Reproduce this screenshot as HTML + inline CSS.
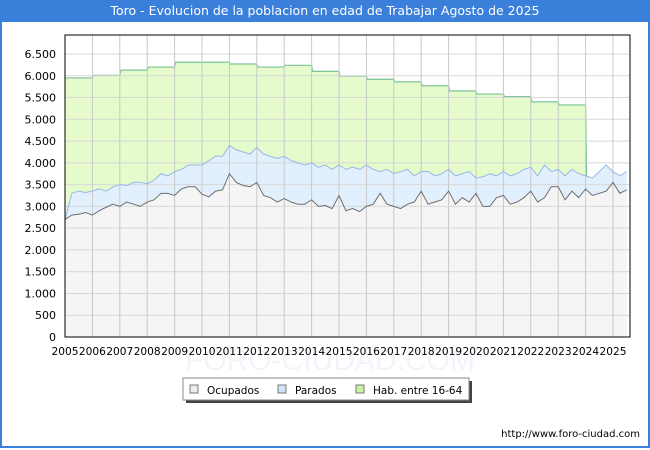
<!DOCTYPE html>
<html><head><meta charset="utf-8"><style>
body{margin:0;background:#fff;font-family:"DejaVu Sans","Liberation Sans",sans-serif}
#wrap{position:relative;width:646px;height:446px;border:2px solid #3a7fd9;border-top:none;background:#fff}
#title{position:absolute;left:-2px;top:0;width:650px;height:22px;background:#3a7fd9;color:#fff;font-size:12.5px;text-align:center;line-height:22px}
</style></head><body>
<div id="wrap">
<div id="title">Toro - Evolucion de la poblacion en edad de Trabajar Agosto de 2025</div>
<svg id="chart" width="650" height="450" style="position:absolute;left:-2px;top:0"></svg>
</div>
<script>
const years=[2005,2006,2007,2008,2009,2010,2011,2012,2013,2014,2015,2016,2017,2018,2019,2020,2021,2022,2023,2024,2025];
const yTicks=[0,500,1000,1500,2000,2500,3000,3500,4000,4500,5000,5500,6000,6500];
const habValues=[5950,6010,6130,6200,6310,6310,6270,6200,6240,6100,5990,5920,5860,5770,5650,5580,5520,5400,5330];
const ocupados=[2700,2800,2820,2860,2800,2900,2980,3050,3000,3100,3050,3000,3100,3150,3300,3300,3250,3400,3450,3450,3280,3220,3350,3380,3750,3550,3480,3450,3550,3250,3200,3100,3180,3100,3050,3050,3150,3000,3020,2950,3250,2900,2950,2880,3000,3050,3300,3050,3000,2950,3050,3100,3350,3050,3100,3150,3350,3050,3200,3100,3300,3000,3000,3200,3250,3050,3100,3200,3350,3100,3200,3450,3450,3150,3350,3200,3400,3250,3300,3350,3550,3300,3380];
const parados=[2700,3300,3350,3320,3350,3400,3350,3450,3500,3480,3550,3550,3520,3600,3750,3700,3800,3850,3950,3950,3950,4050,4150,4150,4400,4300,4250,4200,4350,4200,4150,4100,4150,4050,4000,3950,4000,3900,3950,3850,3950,3850,3900,3850,3950,3850,3800,3850,3750,3800,3850,3700,3800,3800,3700,3750,3850,3700,3750,3800,3650,3680,3750,3700,3800,3700,3750,3850,3900,3700,3950,3800,3850,3700,3850,3750,3700,3650,3800,3950,3800,3700,3800];
const L=65,R=630,T=35,B=337,YMAX=6936,XW=27.4;
const x=t=>L+(t-2005)*XW;
const y=v=>B-v/YMAX*(B-T);
const svg=document.getElementById('chart');
const NS='http://www.w3.org/2000/svg';
function mk(tag,attrs,parent){const e=document.createElementNS(NS,tag);for(const k in attrs)e.setAttribute(k,attrs[k]);(parent||svg).appendChild(e);return e;}
let wm=mk('text',{x:330,y:370,'text-anchor':'middle','font-size':'30','fill':'#f3f4fb','font-family':'Liberation Sans, sans-serif'});
wm.textContent='FORO-CIUDAD.COM';


mk('rect',{x:L,y:T,width:R-L,height:B-T,fill:'#fff'});
let hp=`M${x(2005)},${y(0)}`;
habValues.forEach((v,i)=>{hp+=` L${x(2005+i)+(i?1:0)},${y(v)} L${x(2006+i)},${y(v)}`;});
const lastT=2005+(parados.length-1)*0.25;
hp+=` L${x(2024)+1},${y(parados[76])} L${x(2024)},${y(0)} Z`;
let ha=mk('path',{d:hp,fill:'#e5fbcb'});


let hl='';habValues.forEach((v,i)=>{hl+=(i?' L':'M')+`${x(2005+i)+(i?1:0)},${y(v)} L${x(2006+i)},${y(v)}`;});
hl+=` L${x(2024)+1},${y(parados[76])}`;
let hline=mk('path',{d:hl,fill:'none',stroke:'#7cc497','stroke-width':1.2});


function series(arr){return arr.map((v,i)=>`${x(2005+i*0.25)},${y(v)}`);}
const pp=series(parados),op=series(ocupados);
let pa=mk('path',{d:'M'+pp.join(' L')+` L${x(lastT)},${y(0)} L${x(2005)},${y(0)} Z`,fill:'#e2f0fe'});


let oa=mk('path',{d:'M'+op.join(' L')+` L${x(lastT)},${y(0)} L${x(2005)},${y(0)} Z`,fill:'#f5f5f5'});


yTicks.forEach(v=>{mk('line',{x1:L,x2:R,y1:y(v),y2:y(v),stroke:'#d8d8d8'});
 let t=mk('text',{x:L-9,y:y(v)+4,'text-anchor':'end','font-size':'11',fill:'#000'});
 t.textContent=v.toLocaleString('de-DE');
 
 });
years.forEach(yr=>{if(yr>2005)mk('line',{x1:x(yr),x2:x(yr),y1:T,y2:B,stroke:'#c8c8c8'});
 let t=mk('text',{x:x(yr),y:B+18,'text-anchor':'middle','font-size':'11',fill:'#000','textLength':27,'lengthAdjust':'spacingAndGlyphs'});
 t.textContent=yr;
 
 });
let pl=mk('polyline',{points:pp.join(' '),fill:'none',stroke:'#97b8ea','stroke-width':1});


let ol=mk('polyline',{points:op.join(' '),fill:'none',stroke:'#6e6e6e','stroke-width':1});


mk('rect',{x:L,y:T,width:R-L,height:B-T,fill:'none',stroke:'#000','stroke-width':1});
const lg=mk('g',{});


mk('rect',{x:186,y:381,width:286,height:22,fill:'#444'},lg);
mk('rect',{x:183,y:378,width:286,height:22,fill:'#fff',stroke:'#888'},lg);
[['Ocupados','#eeeeee',190],['Parados','#cfe4fb',278],['Hab. entre 16-64','#c8f3a0',356]].forEach(([n,c,lx])=>{
 const g=mk('g',{},lg);
 
 
 mk('rect',{x:lx,y:385,width:8,height:8,fill:c,stroke:'#777'},g);
 const t=mk('text',{x:lx+17,y:394,'font-size':'10.5',fill:'#000'},g);t.textContent=n;});
let u=mk('text',{x:640,y:437,'text-anchor':'end','font-size':'10',fill:'#000'});
u.textContent='http://www.foro-ciudad.com';


</script>
</body></html>
